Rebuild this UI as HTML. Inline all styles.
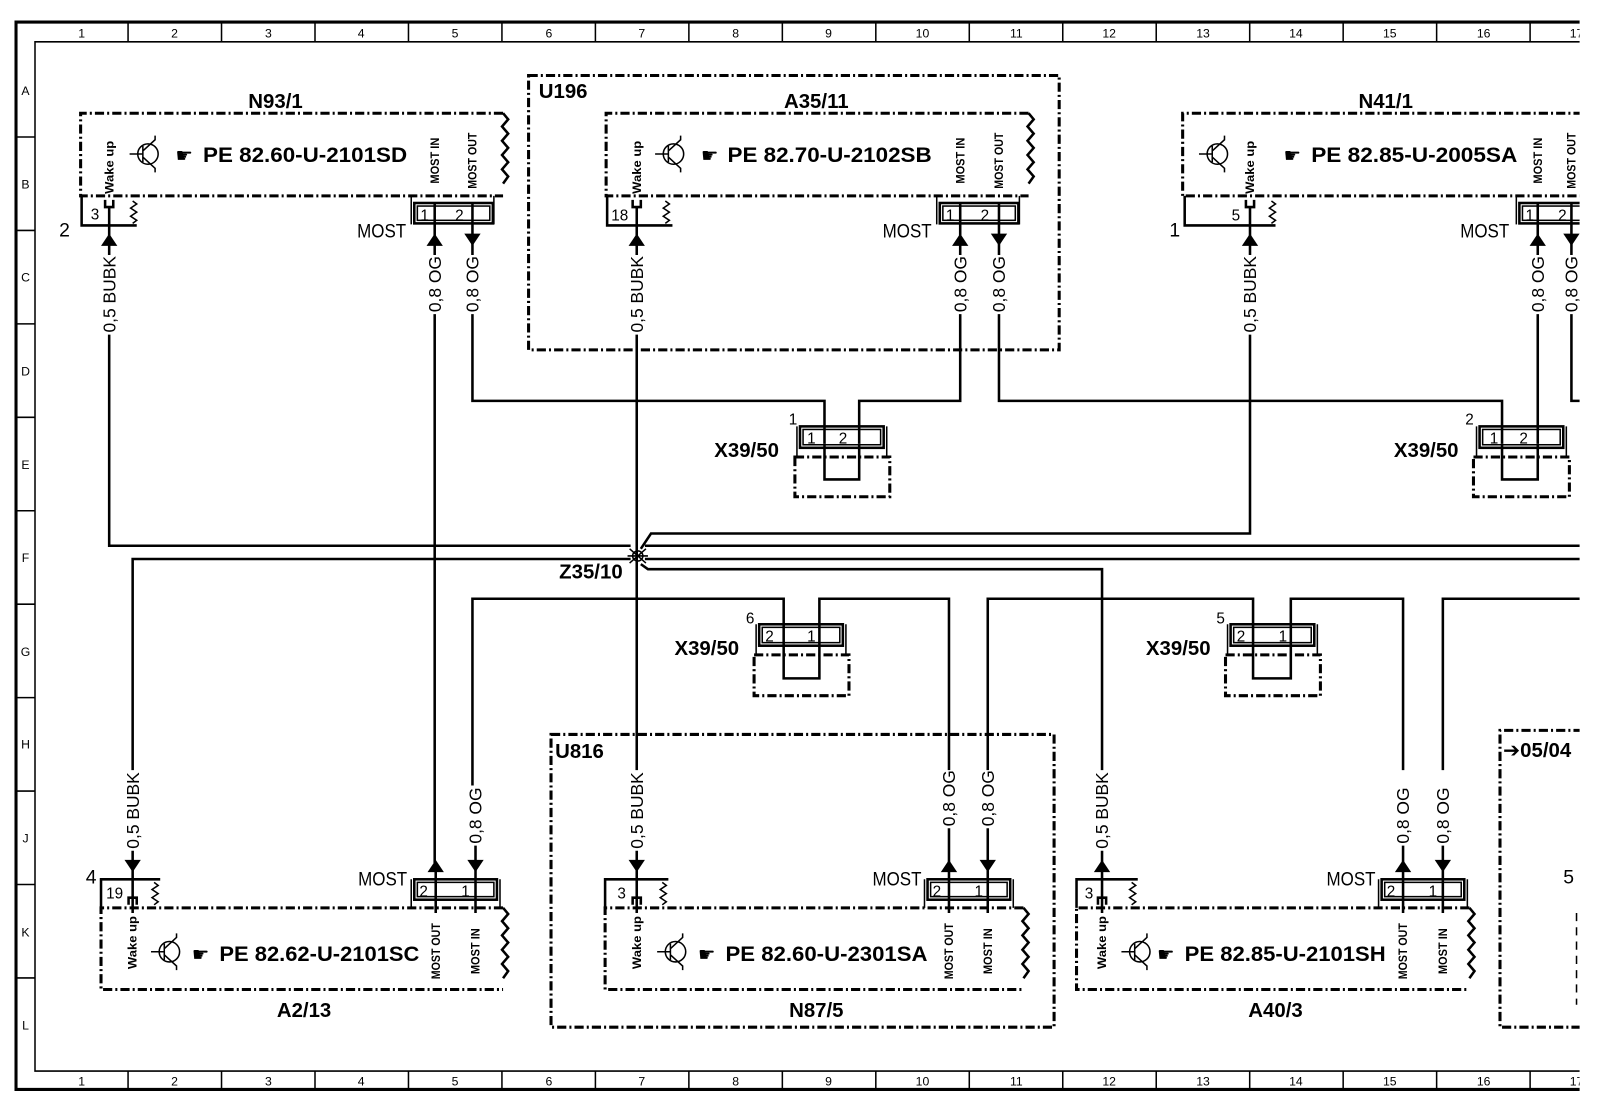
<!DOCTYPE html>
<html><head><meta charset="utf-8"><style>
html,body{margin:0;padding:0;background:#fff;width:1600px;height:1118px;overflow:hidden}
svg{display:block}
text{font-family:"Liberation Sans","DejaVu Sans",sans-serif;fill:#000}
.b{font-weight:bold}
.w{stroke:#000;stroke-width:2.5;fill:none}
.t{stroke:#000;stroke-width:1.5;fill:none}
.f{stroke:#000;stroke-width:3;fill:none}
.dd{stroke:#000;stroke-width:3;fill:none;stroke-dasharray:9 3 2 3}
.vl{font-size:17px}
.pn{font-size:15px}
.ms{font-size:12px;font-weight:bold}
.ti{font-size:20px;font-weight:bold}
.pe{font-size:21px;font-weight:bold}
.cl{font-size:12px}
.hd{font-size:19px;font-family:"DejaVu Sans",sans-serif}
</style></head><body>
<svg width="1600" height="1118" viewBox="0 0 1568 1096" preserveAspectRatio="none" xmlns="http://www.w3.org/2000/svg">
<defs>
<g id="tr"><circle cx="0" cy="0" r="10" class="t" stroke-width="2.5"/><path d="M-18 0H-5M-5 -8V8M-5 -3L7 -14V-18M-5 3L7 14V18" class="t" stroke-width="2.2"/></g>
<polygon id="au" points="0,0 -8,12 8,12" fill="#000"/>
<polygon id="ad" points="0,12 -8,0 8,0" fill="#000"/>
<path id="zz" d="M0 0l4 3-6 4 6 4-6 4 6 4-4 3" class="t" stroke-width="1.8"/>
<path id="wv" d="M0 0l5 6-6 7 6 7-6 7 6 7-6 7 6 7-6 7 6 7-5 7" class="w"/>
</defs>

<!-- frame -->
<path d="M1568 21.6H15.7V1068H1568" class="f"/>
<path d="M1568 41H34.3V1050H1568" class="t" stroke-width="2"/>
<g class="t" stroke-width="2">
<path d="M125.5 21.6V41M217.1 21.6V41M308.7 21.6V41M400.3 21.6V41M491.9 21.6V41M583.5 21.6V41M675.1 21.6V41M766.7 21.6V41M858.3 21.6V41M949.9 21.6V41M1041.5 21.6V41M1133.1 21.6V41M1224.7 21.6V41M1316.3 21.6V41M1407.9 21.6V41M1499.5 21.6V41"/>
<path d="M125.5 1050V1068M217.1 1050V1068M308.7 1050V1068M400.3 1050V1068M491.9 1050V1068M583.5 1050V1068M675.1 1050V1068M766.7 1050V1068M858.3 1050V1068M949.9 1050V1068M1041.5 1050V1068M1133.1 1050V1068M1224.7 1050V1068M1316.3 1050V1068M1407.9 1050V1068M1499.5 1050V1068"/>
<path d="M15.7 134.3H34.3M15.7 225.9H34.3M15.7 317.5H34.3M15.7 409.1H34.3M15.7 500.7H34.3M15.7 592.3H34.3M15.7 683.9H34.3M15.7 775.5H34.3M15.7 867.1H34.3M15.7 958.7H34.3"/>
</g>
<g class="cl" text-anchor="middle">
<text x="80" y="37">1</text><text x="171" y="37">2</text><text x="263" y="37">3</text><text x="354" y="37">4</text><text x="446" y="37">5</text><text x="538" y="37">6</text><text x="629" y="37">7</text><text x="721" y="37">8</text><text x="812" y="37">9</text><text x="904" y="37">10</text><text x="996" y="37">11</text><text x="1087" y="37">12</text><text x="1179" y="37">13</text><text x="1270" y="37">14</text><text x="1362" y="37">15</text><text x="1454" y="37">16</text><text x="1545" y="37">17</text>
<text x="80" y="1064">1</text><text x="171" y="1064">2</text><text x="263" y="1064">3</text><text x="354" y="1064">4</text><text x="446" y="1064">5</text><text x="538" y="1064">6</text><text x="629" y="1064">7</text><text x="721" y="1064">8</text><text x="812" y="1064">9</text><text x="904" y="1064">10</text><text x="996" y="1064">11</text><text x="1087" y="1064">12</text><text x="1179" y="1064">13</text><text x="1270" y="1064">14</text><text x="1362" y="1064">15</text><text x="1454" y="1064">16</text><text x="1545" y="1064">17</text>
<text x="25" y="93">A</text><text x="25" y="185">B</text><text x="25" y="276">C</text><text x="25" y="368">D</text><text x="25" y="460">E</text><text x="25" y="551">F</text><text x="25" y="643">G</text><text x="25" y="734">H</text><text x="25" y="826">J</text><text x="25" y="918">K</text><text x="25" y="1009">L</text>
</g>

<!-- ===== N93/1 ===== -->
<text x="270" y="106" class="ti" text-anchor="middle">N93/1</text>
<path d="M493 111H79V192H493" class="dd"/><use href="#wv" x="493" y="111"/>
<use href="#tr" x="145" y="151"/>
<text x="172" y="159" class="hd">☛</text>
<text x="199" y="159" class="pe" textLength="200" lengthAdjust="spacingAndGlyphs">PE  82.60-U-2101SD</text>
<text transform="translate(111,190) rotate(-90)" class="ms" textLength="52" lengthAdjust="spacingAndGlyphs">Wake up</text>
<text transform="translate(430,180) rotate(-90)" class="ms" textLength="45" lengthAdjust="spacingAndGlyphs">MOST IN</text>
<text transform="translate(467,185) rotate(-90)" class="ms" textLength="55" lengthAdjust="spacingAndGlyphs">MOST OUT</text>
<path d="M80 192V221H134" class="w"/><use href="#zz" x="130" y="197"/>
<path d="M103 196V203H111V196" class="w"/>
<text x="89" y="215" class="pn">3</text><text x="58" y="232" font-size="19">2</text>
<path d="M403 192V220M484 192V220" class="t"/><rect x="406" y="199" width="77" height="20" class="w"/><rect x="409" y="202" width="71" height="14" class="t" stroke-width="1"/>
<text x="412" y="216" class="pn">1</text><text x="446" y="216" class="pn">2</text>
<text x="350" y="233" font-size="19" textLength="48" lengthAdjust="spacingAndGlyphs">MOST</text>
<!-- ===== U196 / A35/11 ===== -->
<path d="M518 74H1038V343H518Z" class="dd"/>
<text x="528" y="96" class="ti" font-size="18">U196</text>
<text x="800" y="106" class="ti" text-anchor="middle">A35/11</text>
<path d="M1008 111H594V192H1008" class="dd"/><use href="#wv" x="1008" y="111"/>
<use href="#tr" x="660" y="151"/>
<text x="687" y="159" class="hd">☛</text>
<text x="713" y="159" class="pe" textLength="200" lengthAdjust="spacingAndGlyphs">PE  82.70-U-2102SB</text>
<text transform="translate(628,190) rotate(-90)" class="ms" textLength="52" lengthAdjust="spacingAndGlyphs">Wake up</text>
<text transform="translate(945,180) rotate(-90)" class="ms" textLength="45" lengthAdjust="spacingAndGlyphs">MOST IN</text>
<text transform="translate(983,185) rotate(-90)" class="ms" textLength="55" lengthAdjust="spacingAndGlyphs">MOST OUT</text>
<path d="M595 192V221H659" class="w"/><use href="#zz" x="652" y="197"/>
<path d="M620 196V203H628V196" class="w"/>
<text x="599" y="216" class="pn">18</text>
<path d="M918 192V220M999 192V220" class="t"/><rect x="921" y="199" width="77" height="20" class="w"/><rect x="924" y="202" width="71" height="14" class="t" stroke-width="1"/>
<text x="927" y="216" class="pn">1</text><text x="961" y="216" class="pn">2</text>
<text x="865" y="233" font-size="19" textLength="48" lengthAdjust="spacingAndGlyphs">MOST</text>
<!-- ===== N41/1 ===== -->
<text x="1358" y="106" class="ti" text-anchor="middle">N41/1</text>
<path d="M1568 111H1159V192H1568" class="dd"/>
<use href="#tr" x="1193" y="151"/>
<text x="1258" y="159" class="hd">☛</text>
<text x="1285" y="159" class="pe" textLength="202" lengthAdjust="spacingAndGlyphs">PE  82.85-U-2005SA</text>
<text transform="translate(1229,190) rotate(-90)" class="ms" textLength="52" lengthAdjust="spacingAndGlyphs">Wake up</text>
<text transform="translate(1511,180) rotate(-90)" class="ms" textLength="45" lengthAdjust="spacingAndGlyphs">MOST IN</text>
<text transform="translate(1544,185) rotate(-90)" class="ms" textLength="55" lengthAdjust="spacingAndGlyphs">MOST OUT</text>
<path d="M1161 192V221H1250" class="w"/><use href="#zz" x="1246" y="197"/>
<path d="M1221 196V203H1229V196" class="w"/>
<text x="1207" y="216" class="pn">5</text><text x="1146" y="232" font-size="19">1</text>
<path d="M1486 192V220" class="t"/><rect x="1489" y="199" width="79" height="20" class="w"/><rect x="1492" y="202" width="76" height="14" class="t" stroke-width="1"/>
<text x="1495" y="216" class="pn">1</text><text x="1527" y="216" class="pn">2</text>
<text x="1431" y="233" font-size="19" textLength="48" lengthAdjust="spacingAndGlyphs">MOST</text>

<!-- top arrows -->
<use href="#au" x="107" y="229"/><use href="#au" x="426" y="229"/><use href="#ad" x="463" y="229"/>
<use href="#au" x="624" y="229"/><use href="#au" x="941" y="229"/><use href="#ad" x="979" y="229"/>
<use href="#au" x="1225" y="229"/><use href="#au" x="1507" y="229"/><use href="#ad" x="1540" y="229"/>
<g class="w">
<path d="M107 203V250M426 199V250M463 199V250M624 203V250M941 199V250M979 199V250M1225 203V250M1507 199V250M1540 199V250"/>
</g>
<g class="vl">
<text transform="translate(113,326) rotate(-90)" textLength="75" lengthAdjust="spacingAndGlyphs">0,5 BUBK</text>
<text transform="translate(630,326) rotate(-90)" textLength="75" lengthAdjust="spacingAndGlyphs">0,5 BUBK</text>
<text transform="translate(1231,326) rotate(-90)" textLength="75" lengthAdjust="spacingAndGlyphs">0,5 BUBK</text>
<text transform="translate(432,306) rotate(-90)" textLength="55" lengthAdjust="spacingAndGlyphs">0,8 OG</text>
<text transform="translate(469,306) rotate(-90)" textLength="55" lengthAdjust="spacingAndGlyphs">0,8 OG</text>
<text transform="translate(947,306) rotate(-90)" textLength="55" lengthAdjust="spacingAndGlyphs">0,8 OG</text>
<text transform="translate(985,306) rotate(-90)" textLength="55" lengthAdjust="spacingAndGlyphs">0,8 OG</text>
<text transform="translate(1513,306) rotate(-90)" textLength="55" lengthAdjust="spacingAndGlyphs">0,8 OG</text>
<text transform="translate(1546,306) rotate(-90)" textLength="55" lengthAdjust="spacingAndGlyphs">0,8 OG</text>
</g>

<!-- main wires -->
<g class="w">
<path d="M107 328V535H618"/>
<path d="M130 755V548H618"/>
<path d="M426 308V846"/>
<path d="M463 308V393H808V435"/>
<path d="M941 308V393H842V435"/>
<path d="M979 308V393H1472V435"/>
<path d="M1507 308V435"/>
<path d="M1540 308V393H1568"/>
<path d="M624 328V755"/>
<path d="M1225 328V523H638L628 538"/>
<path d="M632 535H1568"/>
<path d="M632 548H1568"/>
<path d="M628 553L635 558H1080V755"/>
<path d="M463 770V587H768V630"/>
<path d="M803 630V587H930V755"/>
<path d="M968 755V587H1228V630"/>
<path d="M1265 630V587H1375V755"/>
<path d="M1414 755V587H1568"/>
</g>
<g class="t" stroke-width="2.5"><path d="M617 538L633 552M617 552L633 538M615 545H635"/><circle cx="625" cy="545" r="5"/></g>
<text x="548" y="567" class="ti" font-size="18">Z35/10</text>

<!-- X39/50 #1 -->
<rect x="784" y="418" width="82" height="21" class="w"/><rect x="787" y="421" width="76" height="15" class="t" stroke-width="1"/>
<path d="M781 418V448M869 418V448" class="t"/>
<text x="791" y="435" class="pn">1</text><text x="822" y="435" class="pn">2</text>
<text x="773" y="416" class="pn">1</text>
<text x="700" y="448" class="ti" font-size="18">X39/50</text>
<path d="M779 448H872V487H779Z" class="dd"/>
<path d="M808 435V470H842V435" class="w"/>
<!-- X39/50 #2 -->
<rect x="1450" y="418" width="82" height="21" class="w"/><rect x="1453" y="421" width="76" height="15" class="t" stroke-width="1"/>
<path d="M1447 418V448M1535 418V448" class="t"/>
<text x="1460" y="435" class="pn">1</text><text x="1489" y="435" class="pn">2</text>
<text x="1436" y="416" class="pn">2</text>
<text x="1366" y="448" class="ti" font-size="18">X39/50</text>
<path d="M1444 448H1538V487H1444Z" class="dd"/>
<path d="M1472 435V470H1507V435" class="w"/>
<!-- X39/50 #6 -->
<rect x="744" y="612" width="82" height="21" class="w"/><rect x="747" y="615" width="76" height="15" class="t" stroke-width="1"/>
<path d="M741 612V642M829 612V642" class="t"/>
<text x="750" y="629" class="pn">2</text><text x="791" y="629" class="pn">1</text>
<text x="731" y="611" class="pn">6</text>
<text x="661" y="642" class="ti" font-size="18">X39/50</text>
<path d="M739 642H832V682H739Z" class="dd"/>
<path d="M768 630V665H803V630" class="w"/>
<!-- X39/50 #5 -->
<rect x="1206" y="612" width="82" height="21" class="w"/><rect x="1209" y="615" width="76" height="15" class="t" stroke-width="1"/>
<path d="M1203 612V642M1291 612V642" class="t"/>
<text x="1212" y="629" class="pn">2</text><text x="1253" y="629" class="pn">1</text>
<text x="1192" y="611" class="pn">5</text>
<text x="1123" y="642" class="ti" font-size="18">X39/50</text>
<path d="M1201 642H1294V682H1201Z" class="dd"/>
<path d="M1228 630V665H1265V630" class="w"/>

<!-- bottom labels -->
<g class="vl">
<text transform="translate(136,832) rotate(-90)" textLength="75" lengthAdjust="spacingAndGlyphs">0,5 BUBK</text>
<text transform="translate(630,832) rotate(-90)" textLength="75" lengthAdjust="spacingAndGlyphs">0,5 BUBK</text>
<text transform="translate(1086,832) rotate(-90)" textLength="75" lengthAdjust="spacingAndGlyphs">0,5 BUBK</text>
<text transform="translate(472,827) rotate(-90)" textLength="55" lengthAdjust="spacingAndGlyphs">0,8 OG</text>
<text transform="translate(936,810) rotate(-90)" textLength="55" lengthAdjust="spacingAndGlyphs">0,8 OG</text>
<text transform="translate(974,810) rotate(-90)" textLength="55" lengthAdjust="spacingAndGlyphs">0,8 OG</text>
<text transform="translate(1381,827) rotate(-90)" textLength="55" lengthAdjust="spacingAndGlyphs">0,8 OG</text>
<text transform="translate(1420,827) rotate(-90)" textLength="55" lengthAdjust="spacingAndGlyphs">0,8 OG</text>
</g>
<g class="w">
<path d="M130 834V895M624 834V895M1080 834V895M466 829V895M427 846V895M930 812V895M968 812V895M1375 829V895M1414 829V895"/>
</g>
<use href="#ad" x="130" y="843"/><use href="#au" x="427" y="843"/><use href="#ad" x="466" y="843"/>
<use href="#ad" x="624" y="843"/><use href="#au" x="930" y="843"/><use href="#ad" x="968" y="843"/>
<use href="#au" x="1080" y="843"/><use href="#au" x="1375" y="843"/><use href="#ad" x="1414" y="843"/>

<!-- ===== A2/13 ===== -->
<path d="M493 890H99V970H493" class="dd"/><use href="#wv" x="493" y="890"/>
<path d="M99 890V862H157" class="w"/><use href="#zz" x="151" y="865"/>
<path d="M126 887V880H134V887" class="w"/>
<text x="104" y="881" class="pn">19</text><text x="84" y="866" font-size="19">4</text>
<text transform="translate(134,950) rotate(-90)" class="ms" textLength="52" lengthAdjust="spacingAndGlyphs">Wake up</text>
<use href="#tr" x="166" y="933"/>
<text x="188" y="942" class="hd">☛</text>
<text x="215" y="942" class="pe" textLength="196" lengthAdjust="spacingAndGlyphs">PE  82.62-U-2101SC</text>
<text transform="translate(431,960) rotate(-90)" class="ms" textLength="55" lengthAdjust="spacingAndGlyphs">MOST OUT</text>
<text transform="translate(470,955) rotate(-90)" class="ms" textLength="45" lengthAdjust="spacingAndGlyphs">MOST IN</text>
<path d="M403 890V862M490 890V862" class="t"/><rect x="406" y="862" width="81" height="20" class="w"/><rect x="409" y="865" width="75" height="14" class="t" stroke-width="1"/>
<text x="411" y="879" class="pn">2</text><text x="452" y="879" class="pn">1</text>
<text x="351" y="868" font-size="19" textLength="48" lengthAdjust="spacingAndGlyphs">MOST</text>
<text x="298" y="997" class="ti" text-anchor="middle">A2/13</text>

<!-- ===== U816 / N87/5 ===== -->
<path d="M540 720H1033V1007H540Z" class="dd"/>
<text x="544" y="743" class="ti" font-size="18">U816</text>
<path d="M1003 890H593V970H1003" class="dd"/><use href="#wv" x="1003" y="890"/>
<path d="M593 890V862H655" class="w"/><use href="#zz" x="649" y="865"/>
<path d="M620 887V880H628V887" class="w"/>
<text x="605" y="881" class="pn">3</text>
<text transform="translate(628,950) rotate(-90)" class="ms" textLength="52" lengthAdjust="spacingAndGlyphs">Wake up</text>
<use href="#tr" x="662" y="933"/>
<text x="684" y="942" class="hd">☛</text>
<text x="711" y="942" class="pe" textLength="198" lengthAdjust="spacingAndGlyphs">PE  82.60-U-2301SA</text>
<text transform="translate(934,960) rotate(-90)" class="ms" textLength="55" lengthAdjust="spacingAndGlyphs">MOST OUT</text>
<text transform="translate(972,955) rotate(-90)" class="ms" textLength="45" lengthAdjust="spacingAndGlyphs">MOST IN</text>
<path d="M906 890V862M993 890V862" class="t"/><rect x="909" y="862" width="81" height="20" class="w"/><rect x="912" y="865" width="75" height="14" class="t" stroke-width="1"/>
<text x="914" y="879" class="pn">2</text><text x="955" y="879" class="pn">1</text>
<text x="855" y="868" font-size="19" textLength="48" lengthAdjust="spacingAndGlyphs">MOST</text>
<text x="800" y="997" class="ti" text-anchor="middle">N87/5</text>

<!-- ===== A40/3 ===== -->
<path d="M1440 890H1055V970H1440" class="dd"/><use href="#wv" x="1440" y="890"/>
<path d="M1055 890V862H1115" class="w"/><use href="#zz" x="1109" y="865"/>
<path d="M1076 887V880H1084V887" class="w"/>
<text x="1063" y="881" class="pn">3</text>
<text transform="translate(1084,950) rotate(-90)" class="ms" textLength="52" lengthAdjust="spacingAndGlyphs">Wake up</text>
<use href="#tr" x="1117" y="933"/>
<text x="1134" y="942" class="hd">☛</text>
<text x="1161" y="942" class="pe" textLength="197" lengthAdjust="spacingAndGlyphs">PE  82.85-U-2101SH</text>
<text transform="translate(1379,960) rotate(-90)" class="ms" textLength="55" lengthAdjust="spacingAndGlyphs">MOST OUT</text>
<text transform="translate(1418,955) rotate(-90)" class="ms" textLength="45" lengthAdjust="spacingAndGlyphs">MOST IN</text>
<path d="M1351 890V862M1438 890V862" class="t"/><rect x="1354" y="862" width="81" height="20" class="w"/><rect x="1357" y="865" width="75" height="14" class="t" stroke-width="1"/>
<text x="1359" y="879" class="pn">2</text><text x="1400" y="879" class="pn">1</text>
<text x="1300" y="868" font-size="19" textLength="48" lengthAdjust="spacingAndGlyphs">MOST</text>
<text x="1250" y="997" class="ti" text-anchor="middle">A40/3</text>

<!-- right box -->
<path d="M1568 716H1470V1007H1568" class="dd"/>
<text x="1473" y="742" class="ti" font-size="18">➔05/04</text>
<text x="1532" y="866" font-size="19">5</text>
<path d="M1545 895V985" class="t" stroke-width="2" stroke-dasharray="8 6"/>
<rect x="1548" y="0" width="20" height="1096" fill="#fff"/>
</svg>
</body></html>
